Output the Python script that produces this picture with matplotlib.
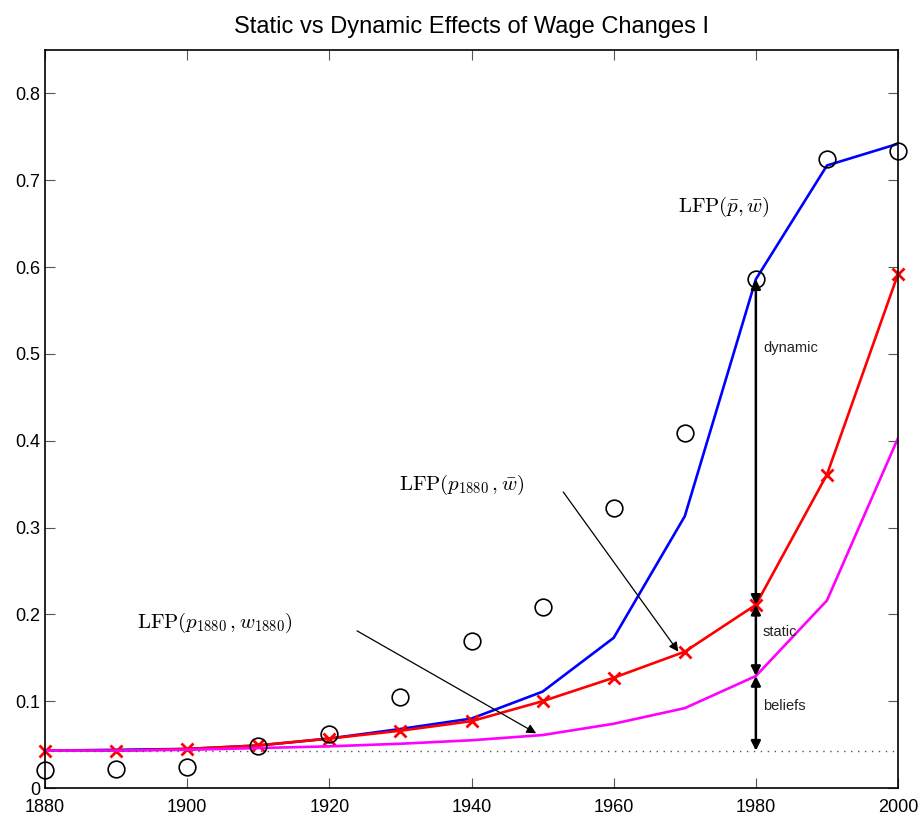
import numpy as np
import matplotlib.pyplot as plt

plt.rcParams['font.family'] = ['Liberation Sans', 'DejaVu Sans']
plt.rcParams['mathtext.fontset'] = 'cm'

years = [1880, 1890, 1900, 1910, 1920, 1930, 1940, 1950, 1960, 1970, 1980, 1990, 2000]
data_lfp = [0.021, 0.022, 0.024, 0.048, 0.062, 0.105, 0.169, 0.209, 0.322, 0.409, 0.586, 0.725, 0.734]
dynamic_lfp = [0.043, 0.044, 0.045, 0.049, 0.057, 0.068, 0.080, 0.111, 0.173, 0.313, 0.586, 0.717, 0.742]
static_lfp = [0.043, 0.043, 0.045, 0.049, 0.057, 0.066, 0.077, 0.100, 0.127, 0.157, 0.211, 0.361, 0.592]
beliefs_lfp = [0.043, 0.043, 0.044, 0.046, 0.048, 0.051, 0.055, 0.061, 0.074, 0.092, 0.129, 0.216, 0.403]
base_lfp = 0.043

fig = plt.figure(figsize=(9.24, 8.16), dpi=100)
ax = fig.add_axes([0.0487, 0.0343, 0.9232, 0.9044])

ax.plot(years, dynamic_lfp, color='blue', lw=1.9)
ax.plot(years, static_lfp, color='red', lw=1.9, marker='x', ms=8, mew=2, clip_on=False)
ax.plot(years, beliefs_lfp, color='magenta', lw=1.9)
ax.plot(years, data_lfp, 'o', ms=12, mfc='none', mec='black', mew=1.2, clip_on=False)
ax.axhline(base_lfp, color='#555555', ls=(0, (1, 4)), lw=1)

# vertical decomposition at 1980
i80 = years.index(1980)
arr = dict(arrowstyle='<|-|>', color='black', lw=1.8, mutation_scale=14, shrinkA=0, shrinkB=0)
ax.annotate('', xy=(1980, dynamic_lfp[i80]), xytext=(1980, static_lfp[i80]), arrowprops=arr)
ax.annotate('', xy=(1980, static_lfp[i80]), xytext=(1980, beliefs_lfp[i80]), arrowprops=arr)
ax.annotate('', xy=(1980, beliefs_lfp[i80]), xytext=(1980, base_lfp), arrowprops=arr)
ax.text(1981, 0.507, 'dynamic', fontsize=10.5, va='center', color='#222222')
ax.text(1981, 0.180, 'static', fontsize=10.5, va='center', color='#222222')
ax.text(1981, 0.094, 'beliefs', fontsize=10.5, va='center', color='#222222')

thin = dict(arrowstyle='-|>', color='black', lw=0.9, mutation_scale=14, shrinkA=0, shrinkB=0)
ax.annotate('', xy=(1949.1, 0.063), xytext=(1923.9, 0.181), arrowprops=thin)
ax.annotate('', xy=(1969.1, 0.157), xytext=(1952.9, 0.341), arrowprops=thin)
ax.text(1893.0, 0.19, r'$\mathrm{LFP}(p_{1880}\,,w_{1880})$', fontsize=15, va='center')
ax.text(1929.8, 0.349, r'$\mathrm{LFP}(p_{1880}\,,\bar{w})$', fontsize=15, va='center')
ax.text(1969.0, 0.669, r'$\mathrm{LFP}(\bar{p},\bar{w})$', fontsize=15, va='center')

ax.set_xlim(1880, 2000)
ax.set_ylim(0, 0.85)
ax.set_xticks(range(1880, 2001, 20))
ax.set_yticks(np.arange(0, 0.81, 0.1))
ax.set_yticklabels(['0', '0.1', '0.2', '0.3', '0.4', '0.5', '0.6', '0.7', '0.8'])
ax.tick_params(direction='in', top=True, right=True, labelsize=13, length=7, color='#555555')
ax.tick_params(axis='x', pad=8)
for s in ax.spines.values():
    s.set_linewidth(1.2)
ax.set_title('Static vs Dynamic Effects of Wage Changes I', fontsize=17, pad=12)

fig.savefig('out.png', dpi=100)
